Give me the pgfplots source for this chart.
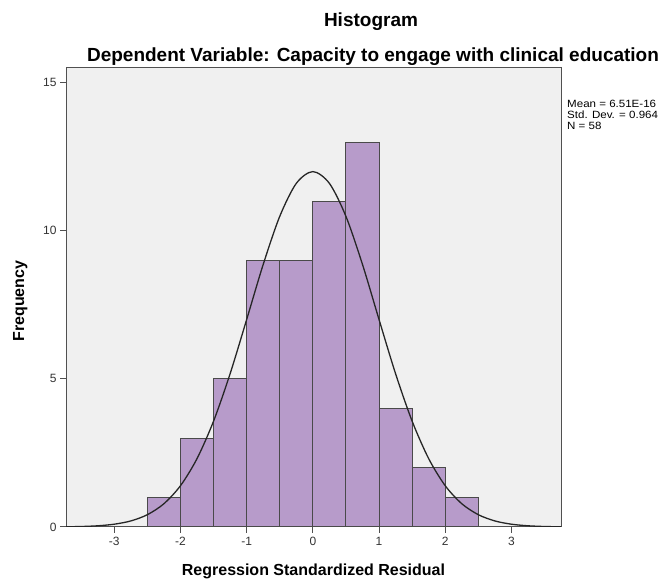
\documentclass[border=0pt]{standalone}
\usepackage{fontspec}
\setmainfont{Liberation Sans}
\newfontfamily\statfont[FakeStretch=1.1]{Liberation Sans}
\usepackage{pgfplots}
\pgfplotsset{compat=1.18}

\definecolor{plotbg}{HTML}{F0F0F0}
\definecolor{barfill}{HTML}{B79BCA}
\definecolor{baredge}{HTML}{4A4A4A}
\definecolor{frame}{HTML}{505050}

\begin{document}
\begin{tikzpicture}[x=1bp, y=1bp]
\useasboundingbox (0,0) rectangle (672,584);

\begin{axis}[
  at={(66bp,57bp)}, anchor=south west,
  scale only axis,
  width=495bp, height=459bp,
  xmin=-3.73, xmax=3.75,
  ymin=0, ymax=15.5,
  xtick={-3,-2,-1,0,1,2,3},
  ytick={0,5,10,15},
  tick align=outside,
  tick pos=left,
  major tick length=6bp,
  tick style={frame, line width=1bp},
  axis line style={frame, line width=1bp},
  axis background/.style={fill=plotbg},
  /pgf/number format/assume math mode=true,
  tick label style={font=\fontsize{12bp}{14bp}\selectfont, text=black!80},
  xticklabel style={yshift=-1bp},
  clip=true,
]
\addplot[ybar interval, fill=barfill, draw=baredge, line width=1bp] coordinates {
  (-2.5,1) (-2,3) (-1.5,5) (-1,9) (-0.5,9) (0,11) (0.5,13) (1,4) (1.5,2) (2,1) (2.5,0)
};
\addplot[smooth, black!85, line width=1.3bp] coordinates {
  (-3.75,0.0062) (-3.5,0.0165) (-3.25,0.0409) (-3,0.0947) (-2.75,0.205)
  (-2.5,0.416) (-2.25,0.787) (-2,1.395) (-1.75,2.310) (-1.5,3.576)
  (-1.25,5.177) (-1,7.007) (-0.75,8.867) (-0.5,10.490) (-0.25,11.604)
  (0,12.001)
  (0.25,11.604) (0.5,10.490) (0.75,8.867) (1,7.007) (1.25,5.177)
  (1.5,3.576) (1.75,2.310) (2,1.395) (2.25,0.787) (2.5,0.416)
  (2.75,0.205) (3,0.0947) (3.25,0.0409) (3.5,0.0165) (3.75,0.0062)
};
\end{axis}

% titles
\node[anchor=base, font=\fontsize{19bp}{22bp}\selectfont\bfseries] at (371,557) {Histogram};
\node[anchor=base, font=\fontsize{19bp}{22bp}\selectfont\bfseries] at (373,522) {Dependent Variable: Capacity to engage with clinical education};

% axis labels
\node[anchor=base, rotate=90, font=\fontsize{16bp}{18bp}\selectfont\bfseries] at (24,283) {Frequency};
\node[anchor=base, font=\fontsize{16bp}{18bp}\selectfont\bfseries] at (313.5,8) {Regression Standardized Residual};

% statistics
\node[anchor=north west, inner sep=0pt, align=left,
      font=\statfont\fontsize{10.5bp}{11bp}\selectfont] at (567,484) {Mean = 6.51E-16\\Std. Dev. = 0.964\\N = 58};
\end{tikzpicture}
\end{document}
